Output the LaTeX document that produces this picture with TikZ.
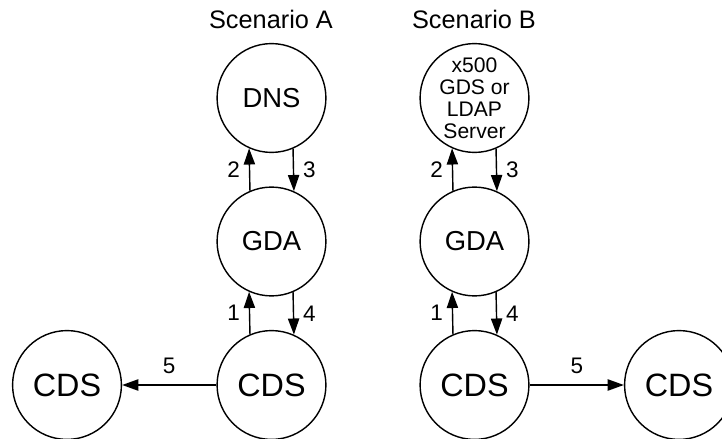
\documentclass[tikz,border=0pt]{standalone}
\usepackage{fontspec}
\setmainfont{Liberation Sans}
\usetikzlibrary{arrows.meta}

\begin{document}
\begin{tikzpicture}[x=0.025cm, y=-0.025cm,
  srv/.style={draw, circle, minimum size=2.72cm, inner sep=0pt, line width=1pt},
  msg/.style={-{Triangle[length=11.5pt, width=8pt]}, line width=1pt},
  num/.style={font=\fontsize{16}{16}\selectfont}]

\useasboundingbox (0,0) rectangle (722,439);

% Titles
\node[font=\fontsize{18}{20}\selectfont] (titleA) at (271,19) {Scenario A};
\node[font=\fontsize{18}{20}\selectfont] (titleB) at (474,19) {Scenario B};

% Scenario A
\node[srv, font=\fontsize{19.5}{22}\selectfont] (dnsA) at (271.5,98) {DNS};
\node[srv, font=\fontsize{19.5}{22}\selectfont] (gdaA) at (271.5,241.5) {GDA};
\node[srv, font=\fontsize{23}{26}\selectfont] (cdsA) at (271.5,385) {CDS};
\node[srv, font=\fontsize{23}{26}\selectfont] (peerA) at (67,385) {CDS};

\draw[msg] (gdaA.113.8) -- node[num, left=3pt] {2} (dnsA.246.2);
\draw[msg] (dnsA.293.8) -- node[num, right=3pt] {3} (gdaA.66.2);
\draw[msg] (cdsA.113.8) -- node[num, left=3pt] {1} (gdaA.246.2);
\draw[msg] (gdaA.293.8) -- node[num, right=3pt] {4} (cdsA.66.2);
\draw[msg] (cdsA) -- node[num, above=4pt] {5} (peerA);

% Scenario B
\node[srv, align=center, font=\fontsize{15}{15.6}\selectfont] (ldapB) at (474.5,98) {x500\\GDS or\\LDAP\\Server};
\node[srv, font=\fontsize{19.5}{22}\selectfont] (gdaB) at (474.5,241.5) {GDA};
\node[srv, font=\fontsize{23}{26}\selectfont] (cdsB) at (474.5,385) {CDS};
\node[srv, font=\fontsize{23}{26}\selectfont] (peerB) at (679,385) {CDS};

\draw[msg] (gdaB.113.8) -- node[num, left=3pt] {2} (ldapB.246.2);
\draw[msg] (ldapB.293.8) -- node[num, right=3pt] {3} (gdaB.66.2);
\draw[msg] (cdsB.113.8) -- node[num, left=3pt] {1} (gdaB.246.2);
\draw[msg] (gdaB.293.8) -- node[num, right=3pt] {4} (cdsB.66.2);
\draw[msg] (cdsB) -- node[num, above=4pt] {5} (peerB);

\end{tikzpicture}
\end{document}
